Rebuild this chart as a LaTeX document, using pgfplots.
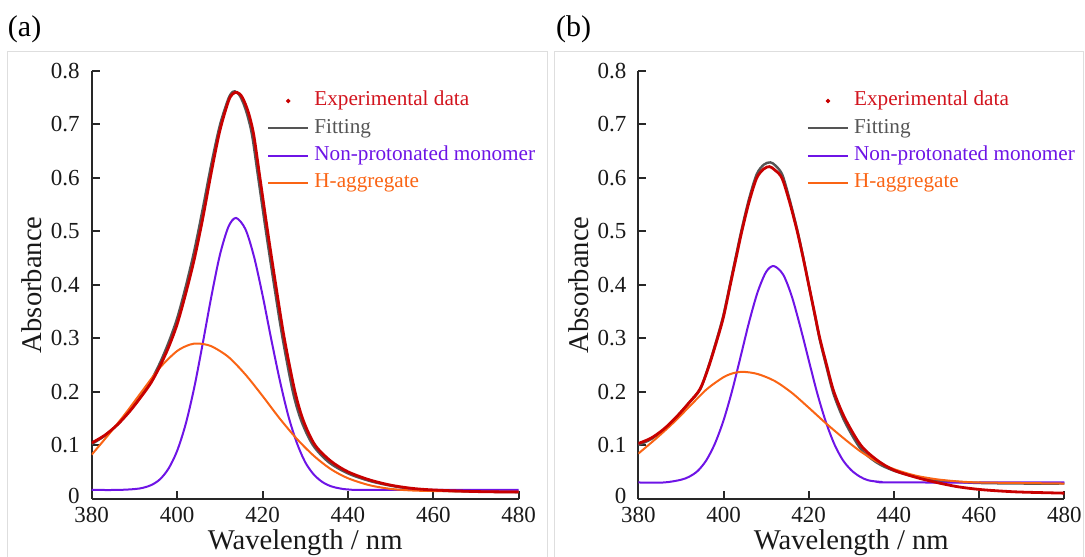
\documentclass[border=0pt]{standalone}
\usepackage{fontspec}
\setmainfont{Liberation Serif}
\usepackage{pgfplots}
\pgfplotsset{compat=1.18}
\definecolor{expred}{RGB}{200,0,0}
\definecolor{exptext}{RGB}{210,20,30}
\definecolor{fitgray}{RGB}{85,85,85}
\definecolor{monopurple}{RGB}{110,20,230}
\definecolor{aggorange}{RGB}{250,100,20}
\definecolor{framegray}{RGB}{222,222,222}
\definecolor{axisgray}{RGB}{40,40,40}
\pgfplotsset{
  panel/.style={
    scale only axis,
    height=213.75pt,
    anchor=south west,
    xmin=380, xmax=480, ymin=0, ymax=0.8,
    axis x line*=bottom, axis y line*=left,
    axis line style={axisgray, line width=1pt},
    tick style={axisgray, line width=1pt},
    tick align=inside,
    major tick length=4pt,
    xtick={380,400,...,480},
    ytick={0,0.1,...,0.8},
    /pgf/number format/assume math mode=true,
    ticklabel style={font=\fontsize{11.5}{13.8}\selectfont, text=black!90},
    yticklabel={\ifnum\ticknum=0 \raisebox{1.6pt}[0.676em][0pt]{0}\else\pgfmathprintnumber{\tick}\fi},
    yticklabel style={/pgf/number format/fixed, /pgf/number format/precision=1, inner sep=0pt, xshift=-5.8pt},
    xticklabel style={inner sep=0pt, yshift=-4.4pt},
    xlabel={Wavelength / nm},
    ylabel={Absorbance},
    label style={font=\fontsize{14.3}{17}\selectfont, text=black!90},
    xlabel style={at={(axis description cs:0.5,0)}, anchor=base, inner sep=0pt, yshift=-25.7pt},
    legend cell align=left,
    legend style={draw=none, fill=none, inner sep=0pt, outer sep=0pt,
      row sep=2.65pt, column sep=2.5pt,
      nodes={inner sep=0pt, text height=8pt, text depth=3pt, font=\fontsize{10.6}{12.7}\selectfont}},
  },
  lineleg/.style={legend image code/.code={\draw[##1] (0pt,0pt) -- (20pt,0pt);}},
  dotleg/.style={legend image code/.code={\path[draw=none] (0pt,0pt) (20pt,0pt); \fill[expred] (10pt,0pt) circle[radius=0.9pt];}},
  expline/.style={expred, line width=1.4pt, smooth},
  fitline/.style={fitgray, line width=1.2pt, smooth},
  monoline/.style={monopurple, line width=1pt, smooth},
  aggline/.style={aggorange, line width=1pt, smooth},
}
\begin{document}
\begin{tikzpicture}
\useasboundingbox (0,0) rectangle (542.5pt,278pt);
% panel frames
\draw[framegray, line width=0.5pt] (3.8pt,-5pt) -- (3.8pt,252pt) -- (273.8pt,252pt) -- (273.8pt,-5pt);
\draw[framegray, line width=0.5pt] (277pt,-5pt) -- (277pt,252pt) -- (541.8pt,252pt) -- (541.8pt,-5pt);
\node[anchor=west, inner sep=0pt, font=\fontsize{15}{18}\selectfont] at (3.8pt,263.5pt) {(a)};
\node[anchor=west, inner sep=0pt, font=\fontsize{15}{18}\selectfont] at (277.8pt,263.5pt) {(b)};

% ---------------- panel (a)
\begin{axis}[panel, width=213.5pt, at={(45.85pt,28.75pt)},
  ylabel style={at={(axis description cs:-0.1398,0.5)}, anchor=center},
  legend style={at={(axis description cs:0.4105,0.9556)}, anchor=north west}]
\addlegendimage{dotleg}
\addlegendentry{\textcolor{exptext}{Experimental data}}
\addlegendimage{fitline, lineleg}
\addlegendentry{\textcolor{fitgray}{Fitting}}
\addlegendimage{monoline, lineleg}
\addlegendentry{\textcolor{monopurple}{Non-protonated monomer}}
\addlegendimage{aggline, lineleg}
\addlegendentry{\textcolor{aggorange}{H-aggregate}}
% Fitting
\addplot[fitline, forget plot] coordinates {(380,0.102)(383,0.117)(386,0.138)(389,0.165)(392,0.197)(394,0.222)(396,0.254)(398,0.292)(400,0.337)(402,0.396)(404,0.463)(406,0.542)(408,0.625)(410,0.698)(412,0.748)(413,0.761)(413.5,0.762)(414.5,0.756)(415.5,0.740)(416.5,0.716)(417.6,0.678)(419,0.60)(420.8,0.50)(422.7,0.40)(424.7,0.30)(427.1,0.20)(429.1,0.145)(431.8,0.10)(435.5,0.068)(440,0.047)(445,0.033)(450,0.024)(455,0.018)(460,0.015)(470,0.013)(480,0.012)};
% Non-protonated monomer
\addplot[monoline, forget plot] coordinates {(380,0.016)(386,0.016)(390,0.0176)(392,0.020)(394,0.0253)(396,0.036)(398,0.056)(400,0.089)(402,0.139)(404,0.207)(406,0.290)(408,0.377)(410,0.455)(412,0.508)(413.8,0.525)(416,0.504)(418,0.453)(420,0.381)(422,0.300)(424,0.223)(426,0.156)(428,0.105)(430,0.068)(432,0.045)(434,0.031)(436,0.023)(438,0.019)(440,0.017)(445,0.016)(480,0.016)};
% H-aggregate
\addplot[aggline, forget plot] coordinates {(380,0.082)(384,0.120)(388,0.160)(392,0.203)(396,0.245)(400,0.276)(403,0.288)(405,0.290)(408,0.285)(412,0.265)(416,0.232)(420,0.192)(424,0.150)(428,0.112)(432,0.080)(436,0.055)(440,0.038)(445,0.025)(450,0.018)(455,0.015)(460,0.014)(470,0.013)(480,0.013)};
% Experimental data
\addplot[expline, forget plot] coordinates {(380,0.104)(383,0.118)(386,0.138)(389,0.164)(392,0.195)(394,0.218)(396,0.248)(398,0.283)(400,0.326)(402,0.383)(404,0.447)(406,0.524)(408,0.610)(410,0.688)(412,0.743)(413,0.757)(414,0.760)(415,0.754)(416,0.738)(417,0.714)(418,0.678)(419.4,0.60)(421.2,0.50)(423.1,0.40)(425.1,0.30)(427.6,0.20)(429.6,0.145)(432.3,0.10)(436,0.070)(440,0.050)(445,0.035)(450,0.025)(455,0.019)(460,0.016)(470,0.013)(480,0.012)};
\end{axis}

% ---------------- panel (b)
\begin{axis}[panel, width=213pt, at={(319.15pt,28.75pt)},
  ylabel style={at={(axis description cs:-0.1401,0.5)}, anchor=center},
  legend style={at={(axis description cs:0.3953,0.9556)}, anchor=north west}]
\addlegendimage{dotleg}
\addlegendentry{\textcolor{exptext}{Experimental data}}
\addlegendimage{fitline, lineleg}
\addlegendentry{\textcolor{fitgray}{Fitting}}
\addlegendimage{monoline, lineleg}
\addlegendentry{\textcolor{monopurple}{Non-protonated monomer}}
\addlegendimage{aggline, lineleg}
\addlegendentry{\textcolor{aggorange}{H-aggregate}}
% Fitting
\addplot[fitline, forget plot] coordinates {(380,0.100)(383,0.111)(386,0.129)(389,0.153)(392,0.180)(394.5,0.204)(396.5,0.248)(398.6,0.303)(400,0.344)(401.6,0.404)(403,0.457)(404.3,0.505)(406,0.561)(407.8,0.607)(409.5,0.625)(411,0.629)(412.2,0.623)(413.8,0.606)(415.5,0.560)(417.3,0.503)(418.7,0.452)(420,0.40)(421.3,0.348)(422.6,0.297)(424.2,0.245)(425.9,0.194)(428.5,0.143)(432.2,0.093)(436,0.067)(440,0.052)(445,0.041)(450,0.034)(455,0.031)(460,0.029)(470,0.028)(480,0.028)};
% Non-protonated monomer
\addplot[monoline, forget plot] coordinates {(380,0.030)(386,0.030)(390,0.035)(392,0.041)(394,0.052)(396,0.072)(398,0.103)(400,0.146)(402,0.201)(404,0.265)(406,0.330)(408,0.386)(410,0.424)(411.8,0.435)(414,0.419)(416,0.379)(418,0.322)(420,0.259)(422,0.197)(424,0.144)(426,0.102)(428,0.072)(430,0.053)(432,0.041)(434,0.034)(437,0.031)(440,0.030)(480,0.030)};
% H-aggregate
\addplot[aggline, forget plot] coordinates {(380,0.084)(384,0.111)(388,0.140)(392,0.172)(396,0.204)(400,0.227)(402.5,0.235)(404.7,0.237)(408,0.233)(412,0.220)(416,0.198)(420,0.170)(424,0.141)(428,0.114)(432,0.089)(436,0.069)(440,0.055)(445,0.043)(450,0.036)(455,0.032)(460,0.030)(470,0.029)(480,0.028)};
% Experimental data
\addplot[expline, forget plot] coordinates {(380,0.103)(383,0.113)(386,0.130)(389,0.153)(392,0.180)(394.5,0.205)(396.5,0.246)(398.6,0.30)(400,0.34)(401.6,0.40)(403,0.452)(404.3,0.50)(406,0.555)(407.8,0.60)(409.5,0.617)(410.8,0.621)(412,0.615)(413.7,0.60)(415.5,0.555)(417.3,0.50)(418.7,0.45)(420,0.40)(421.3,0.35)(422.6,0.30)(424.2,0.25)(425.9,0.20)(428.5,0.15)(432.2,0.10)(436,0.072)(440,0.053)(445,0.040)(450,0.030)(455,0.022)(460,0.017)(465,0.014)(470,0.012)(480,0.010)};
\end{axis}
\end{tikzpicture}
\end{document}
